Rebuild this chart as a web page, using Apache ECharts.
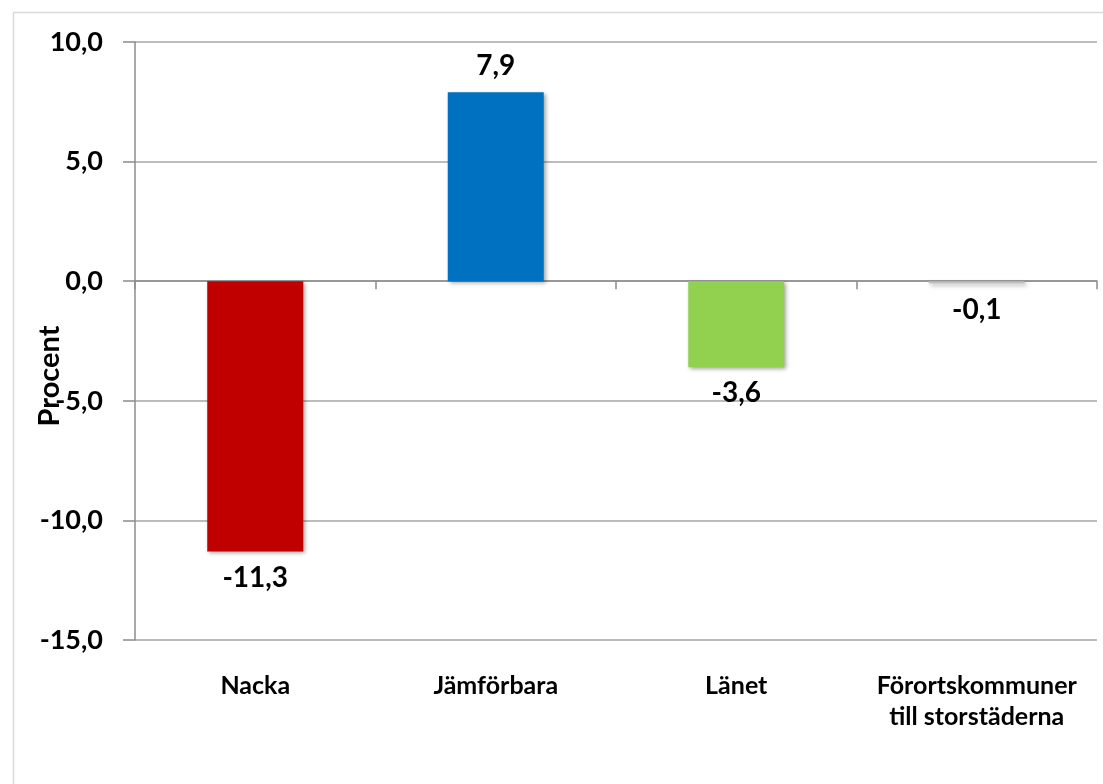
<html>
  <head>
    <meta charset="utf-8">
    <script src="https://cdn.jsdelivr.net/npm/echarts@6/dist/echarts.min.js"></script>
    <style>
      body { margin: 0; background-color: #fff; }
      #chart { width: 1103px; height: 784px; }
    </style>
  </head>
  <body>
    <div id="chart"></div>
  </body>
  <script>
    // data
    var categories = ['Nacka', 'Jämförbara', 'Länet', 'Förortskommuner\ntill storstäderna'];
    var values = [-11.3, 7.9, -3.6, -0.1];
    var barColors = ['#C00000', '#0070C0', '#92D050', '#BFBFBF'];
    var yTicks = { min: -15, max: 10, interval: 5 };

    var font = 'Lato';
    function comma(v) { return Number(v).toFixed(1).replace('.', ','); }

    var chartDom = document.getElementById('chart');
    var chart = echarts.init(chartDom);

    var barData = [];
    for (let i in values) {
        barData.push({
            value: values[i],
            itemStyle: { color: barColors[i] },
            label: { position: values[i] >= 0 ? 'top' : 'bottom' }
        });
    }

    var option = {
        animation: false,
        backgroundColor: '#fff',
        graphic: [
            // outer chart border
            { type: 'rect', left: 11, top: 10, shape: { width: 1100, height: 800 },
              style: { fill: 'none', stroke: '#d9d9d9', lineWidth: 1.5 }, silent: true },
            // y axis title
            { type: 'text', x: 50, y: 376, rotation: Math.PI / 2,
              style: { text: 'Procent', font: 'bold 29px ' + font, fill: '#000',
                       align: 'center', verticalAlign: 'middle' } }
        ],
        grid: { left: 135, right: 6, top: 42, bottom: 144 },
        xAxis: [
            {
                type: 'category', data: categories, position: 'bottom',
                axisLine: { show: false, onZero: false }, axisTick: { show: false },
                axisLabel: { margin: 30, fontFamily: font, fontWeight: 'bold', fontSize: 25,
                             color: '#000', lineHeight: 31, interval: 0 }
            },
            {
                // axis line with ticks sitting on zero
                type: 'category', data: categories, position: 'top',
                axisLine: { onZero: true, lineStyle: { color: '#8c8c8c', width: 1.5 } },
                axisTick: { show: true, length: 8, inside: true, lineStyle: { color: '#8c8c8c', width: 1.5 } },
                axisLabel: { show: false }
            }
        ],
        yAxis: {
            type: 'value', min: yTicks.min, max: yTicks.max, interval: yTicks.interval,
            axisLine: { show: true, lineStyle: { color: '#8c8c8c', width: 1.5 } },
            axisTick: { show: true, length: 12, lineStyle: { color: '#8c8c8c', width: 1.5 } },
            splitLine: { lineStyle: { color: '#a6a6a6', width: 1.5 } },
            axisLabel: { margin: 32, fontFamily: font, fontWeight: 'bold', fontSize: 27,
                         color: '#000', formatter: comma }
        },
        series: [{
            type: 'bar', xAxisIndex: 1, data: barData, barWidth: 96,
            itemStyle: { shadowBlur: 4, shadowOffsetX: 2, shadowOffsetY: 2, shadowColor: 'rgba(0,0,0,0.35)' },
            label: { show: true, distance: 12, fontFamily: font, fontWeight: 'bold', fontSize: 28,
                     color: '#000', formatter: function (p) { return comma(p.value); } }
        }]
    };

    chart.setOption(option);
  </script>
</html>
